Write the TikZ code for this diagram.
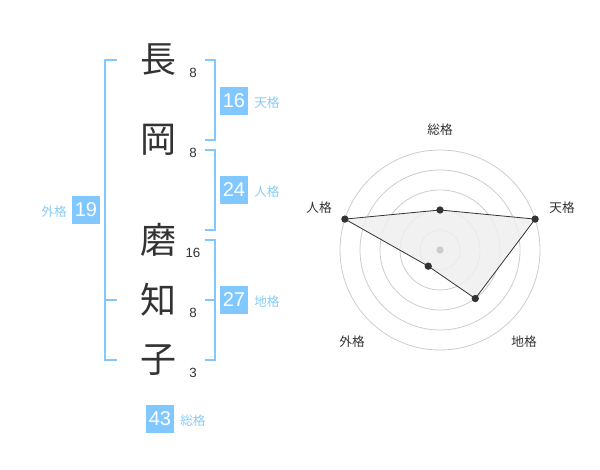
\documentclass[tikz,border=0pt]{standalone}
\usepackage{fontspec}
\setmainfont{Liberation Sans}
\newfontfamily\cjk{Noto Sans CJK JP}
\definecolor{sky}{HTML}{80C8FF}
\definecolor{skytext}{HTML}{88CCF6}
\definecolor{ink}{HTML}{333333}
\definecolor{ring}{HTML}{CCCCCC}
\definecolor{area}{HTML}{EFEFEF}
\begin{document}
\begin{tikzpicture}[x=0.75pt,y=-0.75pt,
  kanji/.style={font=\cjk\fontsize{27}{27}\selectfont, text=ink, inner sep=0},
  strokes/.style={font=\fontsize{10}{10}\selectfont, text=ink, inner sep=0},
  numbox/.style={fill=sky, text=white, minimum size=21pt, inner sep=0, font=\fontsize{15}{15}\selectfont},
  kaku/.style={font=\cjk\fontsize{9.5}{9.5}\selectfont, text=skytext, inner sep=0},
  bracket/.style={draw=sky, line width=1.5pt},
  ringline/.style={draw=ring, line width=0.6pt},
  axislabel/.style={font=\cjk\fontsize{9.5}{9.5}\selectfont, text=ink, inner sep=0},
  vdot/.style={circle, fill=ink, inner sep=0, minimum size=5.5pt},
  cdot/.style={circle, fill=ring, inner sep=0, minimum size=5.5pt}]
\useasboundingbox (0,0) rectangle (600,470);

% characters
\node[kanji] (c1) at (158,60) {長};
\node[kanji] (c2) at (158,140) {岡};
\node[kanji] (c3) at (158,240) {磨};
\node[kanji] (c4) at (158,300) {知};
\node[kanji] (c5) at (158,360) {子};

% stroke counts
\node[strokes] (s1) at (193,73) {8};
\node[strokes] (s2) at (193,153) {8};
\node[strokes] (s3) at (193,253) {16};
\node[strokes] (s4) at (193,313) {8};
\node[strokes] (s5) at (193,373) {3};

% brackets
\coordinate (g1) at (117,60);  \coordinate (g2) at (117,300); \coordinate (g3) at (117,360);
\draw[bracket] (g1) -- (105,60) -- (105,360) -- (g3);
\draw[bracket] (g2) -- (105,300);

\coordinate (t1) at (205,60); \coordinate (t2) at (205,140);
\draw[bracket] (t1) -- (215,60) -- (215,140) -- (t2);
\coordinate (j1) at (205,150); \coordinate (j2) at (205,230);
\draw[bracket] (j1) -- (215,150) -- (215,230) -- (j2);
\coordinate (d1) at (205,240); \coordinate (d2) at (205,300); \coordinate (d3) at (205,360);
\draw[bracket] (d1) -- (215,240) -- (215,360) -- (d3);
\draw[bracket] (d2) -- (215,300);

% boxes and labels
\node[numbox] (b16) at (234,101) {16};
\node[kaku, anchor=west] (l16) at (254,103) {天格};
\node[numbox] (b24) at (234,190) {24};
\node[kaku, anchor=west] (l24) at (254,192) {人格};
\node[numbox] (b27) at (234,300) {27};
\node[kaku, anchor=west] (l27) at (254,302) {地格};
\node[numbox] (b19) at (86,210) {19};
\node[kaku, anchor=east] (l19) at (67,212) {外格};
\node[numbox] (b43) at (160,419) {43};
\node[kaku, anchor=west] (l43) at (180,421) {総格};

% radar chart
\begin{scope}[shift={(440,250)}, y=0.75pt]
  \foreach \r in {20,40,60,80,100} \draw[ringline] (0,0) circle[radius=\r];
  \coordinate (pS) at (90:40);
  \coordinate (pT) at (18:100);
  \coordinate (pC) at (-54:60);
  \coordinate (pG) at (-126:20);
  \coordinate (pJ) at (162:100);
  \fill[area, opacity=0.85] (pS) -- (pT) -- (pC) -- (pG) -- (pJ) -- cycle;
  \draw[ink, line width=0.6pt] (pS) -- (pT) -- (pC) -- (pG) -- (pJ) -- cycle;
  \node[cdot] (ctr) at (0,0) {};
  \foreach \p in {pS,pT,pC,pG,pJ} \node[vdot] at (\p) {};
\end{scope}
\node[axislabel] (aS) at (440,130) {総格};
\node[axislabel] (aT) at (562,208) {天格};
\node[axislabel] (aC) at (524,342) {地格};
\node[axislabel] (aG) at (352,342) {外格};
\node[axislabel] (aJ) at (319,208) {人格};
\end{tikzpicture}
\end{document}
